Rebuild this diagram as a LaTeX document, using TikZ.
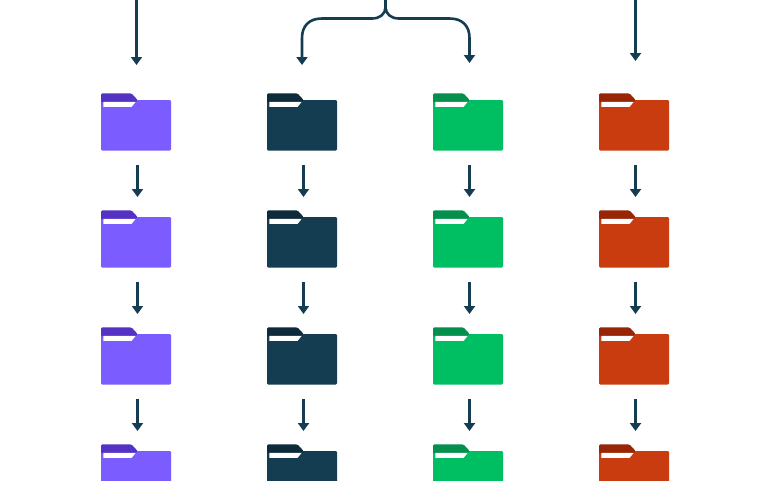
\documentclass[tikz,border=0pt]{standalone}
\usetikzlibrary{arrows.meta}

\definecolor{navy}{HTML}{143D52}
\definecolor{navydark}{HTML}{0E2B3B}
\definecolor{purple}{HTML}{7B5CFF}
\definecolor{purpledark}{HTML}{5433C4}
\definecolor{green}{HTML}{00BF63}
\definecolor{greendark}{HTML}{058F4D}
\definecolor{red}{HTML}{C93C10}
\definecolor{reddark}{HTML}{982606}

\tikzset{
    flow/.style={draw=navy,line width=2.6pt,-{Triangle[width=11pt,length=8pt]}},
    foldersheet/.style={rectangle,inner sep=0pt,outer sep=0pt,minimum width=70pt,minimum height=50.5pt,rounded corners=1.2pt},
    pics/folder/.style n args={2}{code={
        \node[foldersheet,fill=#1] (-body) at (0,0) {};
        \fill[#2,rounded corners=1.2pt] (-35,-23) -- (-35,-31.8) -- (-4.4,-31.8) -- (1.6,-25.25) -- (-0.3,-23) -- cycle;
        \fill[white] (-32.7,-23.5) -- (-0.3,-23.5) -- (-4.3,-18.5) -- (-32.7,-18.5) -- cycle;
    }}
}

\begin{document}
\begin{tikzpicture}[x=1pt,y=-1pt]
    \clip (0,0) rectangle (770,480);
    % folders, one column per colour
    \foreach \col/\xpos/\main/\dark in {a/136/purple/purpledark,b/302/navy/navydark,c/468/green/greendark,d/634/red/reddark} {
        \foreach \row/\ypos in {1/125.25,2/242.25,3/359.25,4/476.25} {
            \pic (\col\row) at (\xpos,\ypos) {folder={\main}{\dark}};
        }
        % arrows between the rows
        \foreach \row/\next in {1/2,2/3,3/4} {
            \draw [flow,shorten <=14.5pt,shorten >=20pt] ([xshift=1.5pt]\col\row-body.south) to ([xshift=1.5pt]\col\next-body.north);
        }
    }
    % arrows coming in from the top
    \coordinate (topa) at (136.5,0);
    \coordinate (topb) at (385.5,0);
    \coordinate (topd) at (635.5,0);
    \coordinate (enda) at (136.5,65);
    \coordinate (endb) at (302,65);
    \coordinate (endc) at (469.5,63);
    \coordinate (endd) at (635.5,61);
    \draw [flow] (topa) to (enda);
    \draw [flow] (topd) to (endd);
    \draw [flow] (topb) -- ++(0,7) .. controls +(0,7) and (380,18.5) .. (372,18.5) -- (322,18.5) .. controls (309,18.5) and (302,26) .. (302,38) -- (endb);
    \draw [flow] (topb) -- ++(0,7) .. controls +(0,7) and (391,18.5) .. (399,18.5) -- (449.5,18.5) .. controls (462.5,18.5) and (469.5,26) .. (469.5,38) -- (endc);
\end{tikzpicture}
\end{document}
